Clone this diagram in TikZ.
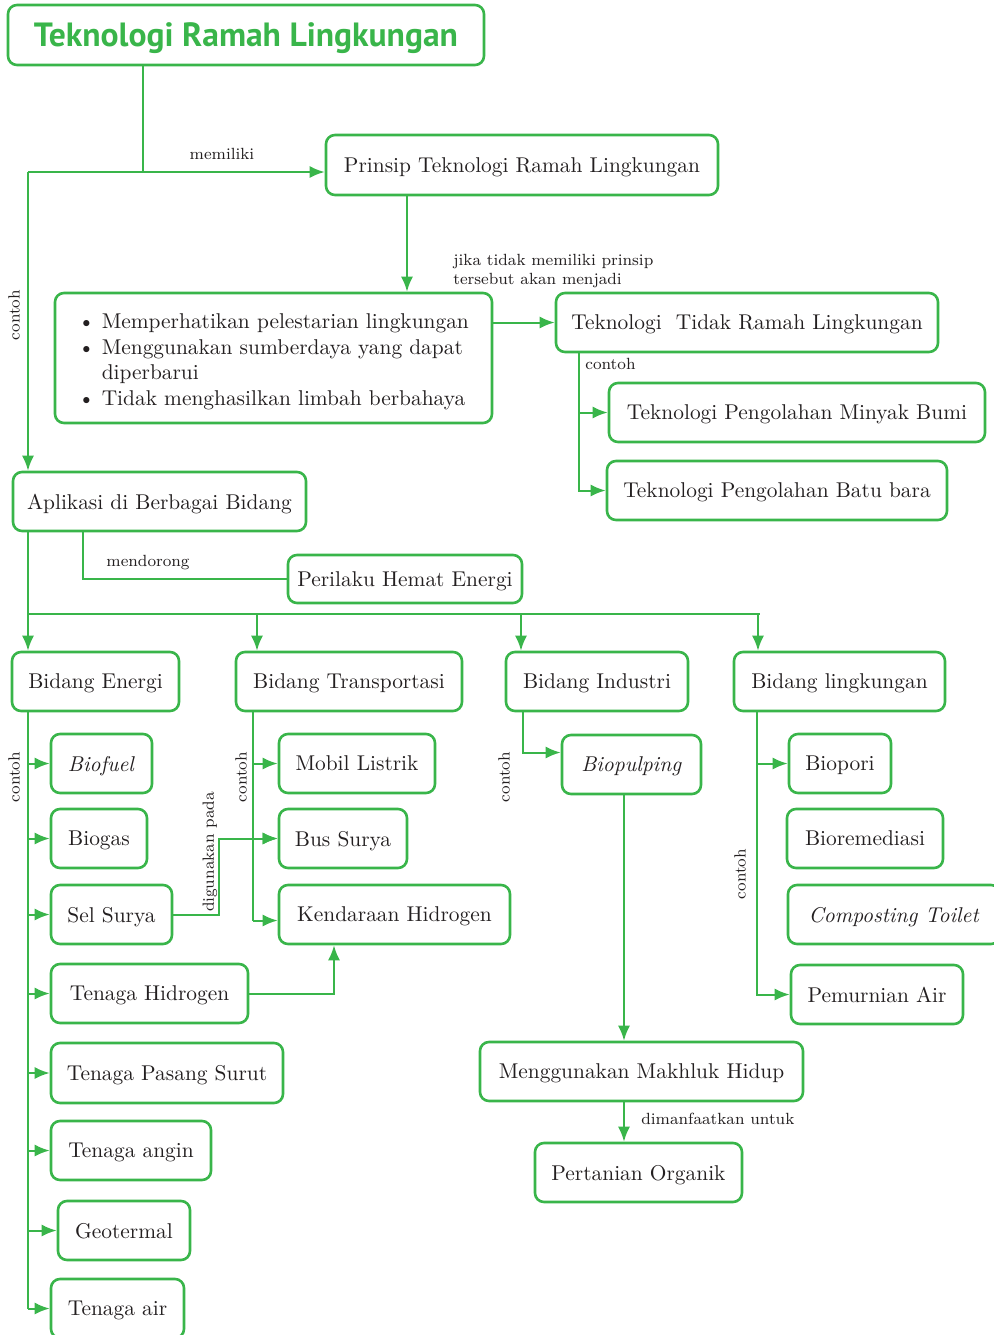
\documentclass[tikz,border=0pt]{standalone}
\usepackage{fontspec}
\usepackage{tikz}
\usetikzlibrary{arrows.meta,calc,positioning}
\newfontfamily\titlefont{PT Sans}
\definecolor{leafgreen}{RGB}{57,181,74}
\definecolor{inkgray}{RGB}{35,31,32}

\tikzset{
  box/.style={draw=leafgreen, line width=1.3pt, rounded corners=4.5pt, text=inkgray,
    font=\fontsize{10.7}{12.85}\selectfont, inner sep=0pt, minimum height=29.5pt, text depth=0pt},
  lbl/.style={text=inkgray, font=\fontsize{8.1}{9.5}\selectfont, inner sep=0pt},
  link/.style={draw=leafgreen, line width=1pt},
  arr/.style={link, -{Latex[length=7.5pt,width=6pt]}},
}

\begin{document}
\begin{tikzpicture}[x=0.5pt, y=-0.5pt]
        \useasboundingbox (0,0) rectangle (994,1335);
        %Top boxes
        \node[box, minimum width=238pt, minimum height=30pt, text=leafgreen,
          font=\titlefont\bfseries\fontsize{16.8}{20}\selectfont] (title) at (246,35) {Teknologi Ramah Lingkungan};
        \node[box, minimum width=196pt, minimum height=30pt] (prinsip) at (522,165) {Prinsip Teknologi Ramah Lingkungan};
        \node[box, minimum width=218.5pt, minimum height=65pt] (ciri) at (273.5,358) {%
          \begin{tabular}[b]{@{}l@{\hspace{3.5pt}}l@{}}
            \textbullet & Memperhatikan pelestarian lingkungan\\
            \textbullet & Menggunakan sumberdaya yang dapat\\
                        & diperbarui\\
            \textbullet & Tidak menghasilkan limbah berbahaya
          \end{tabular}};
        \node[box, minimum width=191pt] (tidak) at (747,322.5) {Teknologi\ \ Tidak Ramah Lingkungan};
        \node[box, minimum width=188pt] (minyak) at (797,412.5) {Teknologi Pengolahan Minyak Bumi};
        \node[box, minimum width=170pt] (batubara) at (777,490.5) {Teknologi Pengolahan Batu bara};
        \node[box, minimum width=146.5pt] (aplikasi) at (159.5,501.5) {Aplikasi di Berbagai Bidang};
        \node[box, minimum width=117pt, minimum height=24pt] (hemat) at (405,579) {Perilaku Hemat Energi};

        %Bidang
        \node[box, minimum width=83.5pt] (energi) at (95.5,681.5) {Bidang Energi};
        \node[box, minimum width=113pt] (transport) at (349,681.5) {Bidang Transportasi};
        \node[box, minimum width=91pt] (industri) at (597,681.5) {Bidang Industri};
        \node[box, minimum width=105.5pt] (lingkungan) at (839.5,681.5) {Bidang lingkungan};

        %Energi
        \node[box, minimum width=50.5pt] (biofuel) at (101.5,763.5) {\textit{Biofuel}};
        \node[box, minimum width=48pt] (biogas) at (99,838.5) {Biogas};
        \node[box, minimum width=60.5pt] (selsurya) at (111.5,914.5) {Sel Surya};
        \node[box, minimum width=98.5pt] (thidrogen) at (149.5,993.5) {Tenaga Hidrogen};
        \node[box, minimum width=116pt, minimum height=30pt] (pasang) at (167,1073) {Tenaga Pasang Surut};
        \node[box, minimum width=80pt] (angin) at (131,1150.5) {Tenaga angin};
        \node[box, minimum width=66pt] (geotermal) at (124,1230.5) {Geotermal};
        \node[box, minimum width=66.5pt] (air) at (117.5,1308.5) {Tenaga air};

        %Transportasi
        \node[box, minimum width=78pt] (mobil) at (357,763.5) {Mobil Listrik};
        \node[box, minimum width=64pt] (bus) at (343,838.5) {Bus Surya};
        \node[box, minimum width=115.5pt] (kendaraan) at (394.5,914.5) {Kendaraan Hidrogen};

        %Industri
        \node[box, minimum width=69.5pt] (biopulping) at (631.5,764.5) {\textit{Biopulping}};
        \node[box, minimum width=161.5pt] (makhluk) at (641.5,1071.5) {Menggunakan Makhluk Hidup};
        \node[box, minimum width=103.5pt] (organik) at (638.5,1172.5) {Pertanian Organik};

        %Lingkungan
        \node[box, minimum width=51pt] (biopori) at (840,763.5) {Biopori};
        \node[box, minimum width=78pt] (bioremediasi) at (865,838.5) {Bioremediasi};
        \node[box, minimum width=106pt] (toilet) at (894,914.5) {\textit{Composting Toilet}};
        \node[box, minimum width=86pt] (pemurnian) at (877,994.5) {Pemurnian Air};

        %Labels
        \node[lbl] (lMemiliki) at (222,154) {memiliki};
        \node[lbl, rotate=90] (lContohA) at (14,315) {contoh};
        \node[lbl, align=left, anchor=west] (lJika) at (453,271) {jika tidak memiliki prinsip\\tersebut akan menjadi};
        \node[lbl, anchor=west] (lContohB) at (585,364) {contoh};
        \node[lbl] (lMendorong) at (148,563) {mendorong};
        \node[lbl, rotate=90] (lContohC) at (14,777) {contoh};
        \node[lbl, rotate=90] (lContohD) at (241,777) {contoh};
        \node[lbl, rotate=90] (lContohE) at (504,777) {contoh};
        \node[lbl, rotate=90] (lContohF) at (740,874) {contoh};
        \node[lbl, rotate=90] (lDigunakan) at (210,852) {digunakan pada};
        \node[lbl, anchor=west] (lManfaat) at (641,1119) {dimanfaatkan untuk};

        %Connectors top
        \coordinate (jm) at (143,172);
        \coordinate (jl) at (28,172);
        \draw[link] (title.south -| jm) -- (jm);
        \draw[arr] (jl) -- (jl -| prinsip.west);
        \draw[arr] (jl) -- (jl |- aplikasi.north);
        \draw[arr] (prinsip.south -| 407,0) -- (ciri.north -| 407,0);
        \draw[arr] (tidak.west -| ciri.east) -- (tidak.west);
        \coordinate (tk) at (579,0);
        \draw[arr] (tidak.south -| tk) |- (minyak.west);
        \draw[arr] (tidak.south -| tk) |- (batubara.west);
        \draw[link] (aplikasi.south -| 83,0) |- (hemat.west);

        %Bus to bidang
        \coordinate (busL) at (28,614);
        \coordinate (busR) at (760,614);
        \draw[link] (aplikasi.south -| busL) -- (busL) -- (busR);
        \foreach \n/\x in {energi/28,transport/257,industri/521,lingkungan/758}
          \draw[arr] (\x,614) -- (\n.north -| \x,0);

        %Energi spine
        \coordinate (es) at (28,0);
        \draw[link] (energi.south -| es) -- (air.west -| es);
        \foreach \n in {biofuel,biogas,selsurya,thidrogen,pasang,angin,geotermal,air}
          \draw[arr] (\n.west -| es) -- (\n.west);

        %Transportasi spine
        \coordinate (ts) at (253,0);
        \coordinate (kin) at ([yshift=-3pt]kendaraan.west);
        \draw[link] (transport.south -| ts) -- (kin -| ts);
        \foreach \n in {mobil.west,bus.west,kin}
          \draw[arr] (\n -| ts) -- (\n);
        \draw[arr] (selsurya.east) -| (bus.west -| 219,0) -- (bus.west);
        \draw[arr] (thidrogen.east) -| (kendaraan.south -| 334,0);

        %Industri
        \coordinate (bin) at ([yshift=6pt]biopulping.west);
        \draw[arr] (industri.south -| 523,0) |- (bin);
        \draw[arr] (biopulping.south -| 624,0) -- (makhluk.north -| 624,0);
        \draw[arr] (makhluk.south -| 624,0) -- (organik.north -| 624,0);

        %Lingkungan
        \coordinate (ls) at (757,0);
        \draw[arr] (lingkungan.south -| ls) |- (biopori.west);
        \draw[arr] (lingkungan.south -| ls) |- (pemurnian.west);
\end{tikzpicture}
\end{document}
